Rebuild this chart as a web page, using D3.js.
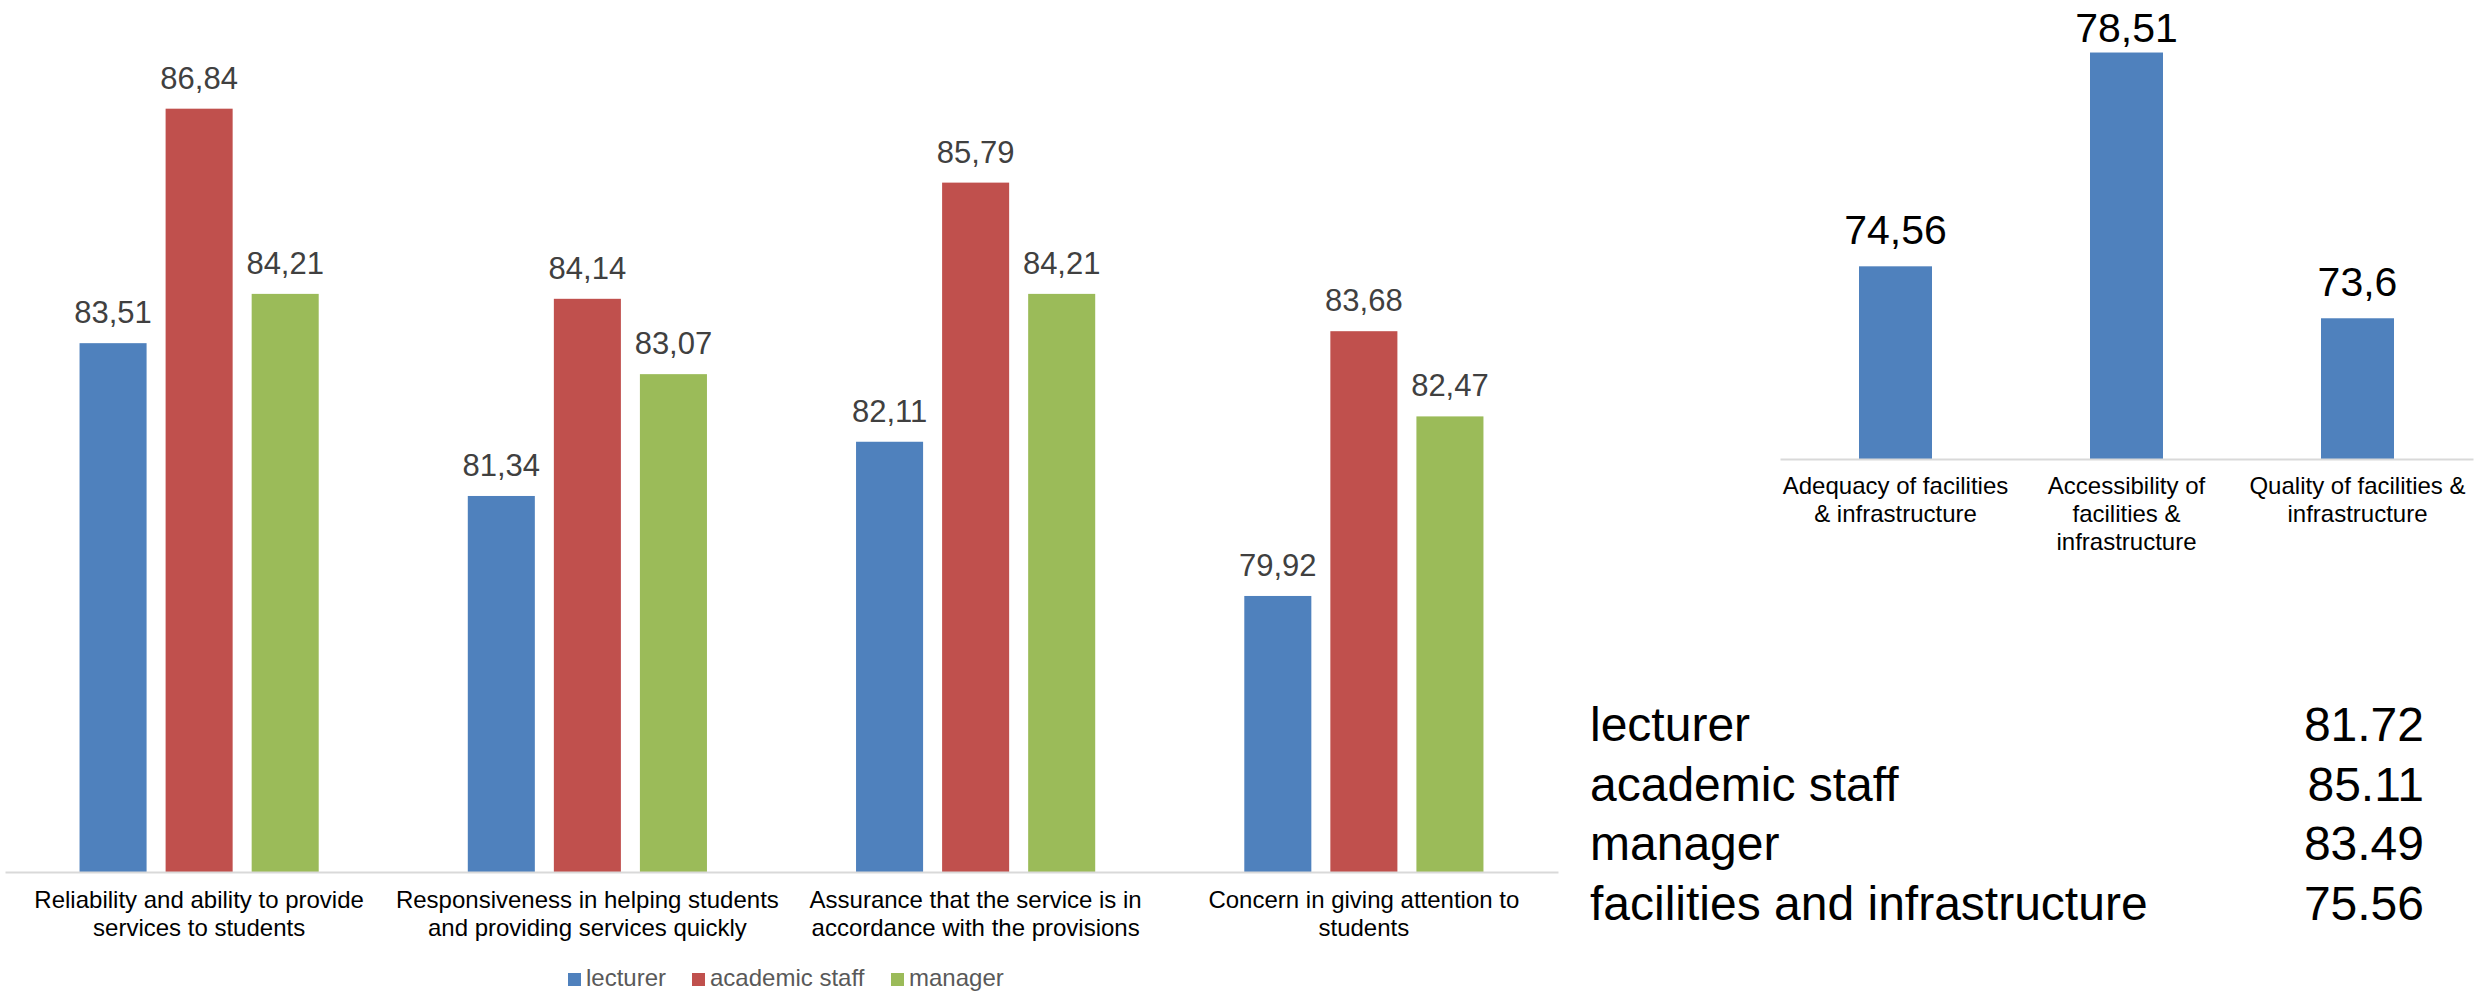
<!DOCTYPE html>
<html>
<head>
<meta charset="utf-8">
<script src="https://cdn.jsdelivr.net/npm/d3@7"></script>
<style>
  html, body { margin: 0; padding: 0; background: #fff; }
  svg { display: block; font-family: "Liberation Sans", Arial, sans-serif; }
</style>
</head>
<body>
<svg id="chart" width="2484" height="992"></svg>
<script>
// ---- Data ----
const categories = [
  "Reliability and ability to provide\nservices to students",
  "Responsiveness in helping students\nand providing services quickly",
  "Assurance that the service is in\naccordance with the provisions",
  "Concern in giving attention to\nstudents"
];
const seriesNames = ["lecturer", "academic staff", "manager"];
const lecturer = [83.51, 81.34, 82.11, 79.92];
const academicStaff = [86.84, 84.14, 85.79, 83.68];
const manager = [84.21, 83.07, 84.21, 82.47];
const seriesColors = ["#4F81BD", "#C0504D", "#9BBB59"];

const facCategories = [
  "Adequacy of facilities\n& infrastructure",
  "Accessibility of\nfacilities &\ninfrastructure",
  "Quality of facilities &\ninfrastructure"
];
const facValues = [74.56, 78.51, 73.6];

const summaryLabels = ["lecturer", "academic staff", "manager", "facilities and infrastructure"];
const summaryValues = ["81.72", "85.11", "83.49", "75.56"];

const fmtComma = v => String(v).replace(".", ",");

const svg = d3.select("#chart");

// ---- Left grouped bar chart ----
const seriesValues = [lecturer, academicStaff, manager];
const left = { x0: 5, x1: 1558, yBase: 872, yTop: 27 };
const x0 = d3.scaleBand().domain(categories).range([left.x0, left.x1])
  .paddingInner(0.384).paddingOuter(0.192);
const x1 = d3.scaleBand().domain(seriesNames).range([0, x0.bandwidth()])
  .paddingInner(0.221).paddingOuter(0);
const yL = d3.scaleLinear().domain([76, 88]).range([left.yBase, left.yTop]);

const gL = svg.append("g");
const groups = gL.selectAll("g.grp").data(categories).join("g")
  .attr("class", "grp")
  .attr("transform", d => `translate(${x0(d)},0)`);

groups.each(function(cat, ci) {
  const g = d3.select(this);
  const rows = seriesNames.map((s, si) => ({ s, si, v: seriesValues[si][ci] }));
  g.selectAll("rect").data(rows).join("rect")
    .attr("x", d => x1(d.s))
    .attr("y", d => yL(d.v))
    .attr("width", x1.bandwidth())
    .attr("height", d => yL(76) - yL(d.v))
    .attr("fill", d => seriesColors[d.si]);
  g.selectAll("text.val").data(rows).join("text")
    .attr("class", "val")
    .attr("x", d => x1(d.s) + x1.bandwidth() / 2)
    .attr("y", d => yL(d.v) - 20)
    .attr("text-anchor", "middle")
    .attr("font-size", 31)
    .attr("fill", "#404040")
    .text(d => fmtComma(d.v));
});

const axL = gL.append("g").attr("transform", `translate(0,${left.yBase})`)
  .call(d3.axisBottom(x0).tickSize(0).tickSizeOuter(0).tickFormat(""));
axL.select(".domain").attr("stroke", "#d9d9d9").attr("stroke-width", 2);

gL.selectAll("text.cat").data(categories).join("text")
  .attr("class", "cat")
  .attr("text-anchor", "middle")
  .attr("font-size", 24)
  .attr("fill", "#000")
  .each(function(d) {
    const t = d3.select(this);
    d.split("\n").forEach((line, i) => {
      t.append("tspan")
        .attr("x", x0(d) + x0.bandwidth() / 2)
        .attr("y", left.yBase + 36 + i * 28)
        .text(line);
    });
  });

// Legend
const legendX = [568, 692, 891];
const leg = gL.append("g");
seriesNames.forEach((s, i) => {
  leg.append("rect").attr("x", legendX[i]).attr("y", 973).attr("width", 13).attr("height", 13)
    .attr("fill", seriesColors[i]);
  leg.append("text").attr("x", legendX[i] + 18).attr("y", 986)
    .attr("font-size", 24).attr("fill", "#595959").text(s);
});

// ---- Right bar chart ----
const right = { x0: 1780, x1: 2473, yBase: 459, yTop: 26 };
const xR = d3.scaleBand().domain(facCategories).range([right.x0, right.x1])
  .paddingInner(0.684).paddingOuter(0.342);
const yR = d3.scaleLinear().domain([71, 79]).range([right.yBase, right.yTop]);
const gR = svg.append("g");
const facRows = facCategories.map((c, i) => ({ c, v: facValues[i] }));

gR.selectAll("rect").data(facRows).join("rect")
  .attr("x", d => xR(d.c))
  .attr("y", d => yR(d.v))
  .attr("width", xR.bandwidth())
  .attr("height", d => yR(71) - yR(d.v))
  .attr("fill", seriesColors[0]);

gR.selectAll("text.val").data(facRows).join("text")
  .attr("class", "val")
  .attr("x", d => xR(d.c) + xR.bandwidth() / 2)
  .attr("y", d => Math.max(yR(d.v) - 22, 42))
  .attr("text-anchor", "middle")
  .attr("font-size", 41)
  .attr("fill", "#000")
  .text(d => fmtComma(d.v));

const axR = gR.append("g").attr("transform", `translate(0,${right.yBase})`)
  .call(d3.axisBottom(xR).tickSize(0).tickSizeOuter(0).tickFormat(""));
axR.select(".domain").attr("stroke", "#d9d9d9").attr("stroke-width", 2);

gR.selectAll("text.cat").data(facCategories).join("text")
  .attr("class", "cat")
  .attr("text-anchor", "middle")
  .attr("font-size", 24)
  .attr("fill", "#000")
  .each(function(d) {
    const t = d3.select(this);
    d.split("\n").forEach((line, i) => {
      t.append("tspan")
        .attr("x", xR(d) + xR.bandwidth() / 2)
        .attr("y", right.yBase + 35 + i * 28)
        .text(line);
    });
  });

// ---- Summary table ----
const gT = svg.append("g");
summaryLabels.forEach((lab, i) => {
  const y = 741 + i * 59.5;
  gT.append("text").attr("x", 1590).attr("y", y).attr("font-size", 48)
    .attr("fill", "#000").text(lab);
  gT.append("text").attr("x", 2424).attr("y", y).attr("font-size", 48)
    .attr("text-anchor", "end").attr("fill", "#000").text(summaryValues[i]);
});
</script>
</body>
</html>
